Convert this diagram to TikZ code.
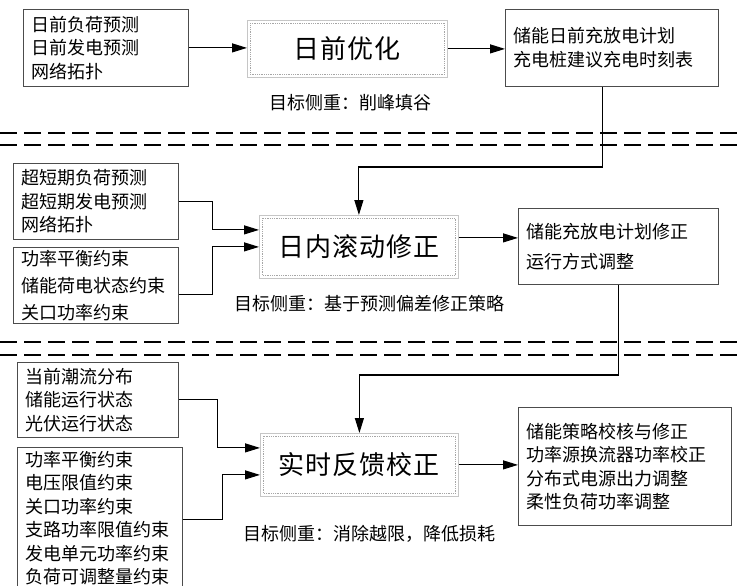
\documentclass[tikz,border=0pt]{standalone}
\usepackage{fontspec}
\setmainfont{Noto Sans CJK SC}
\newfontfamily\stagefont{Noto Sans CJK SC}[LetterSpace=4]
\usetikzlibrary{arrows.meta}
\usepackage{xcolor}

\begin{document}
\begin{tikzpicture}[
x=1pt, y=-1pt,
src/.style={
	rectangle, anchor=north west,
	inner xsep=8pt, inner ysep=0pt,
	draw=black!70, line width=0.8pt, fill=white,
	align=left,
	font=\fontsize{18}{23.5}\selectfont,
},
result/.style={src},
stage/.style={
	rectangle, anchor=north west,
	inner sep=0pt,
	draw=gray!45, line width=0.8pt, fill=white,
	font=\fontsize{26}{30}\selectfont\stagefont,
	path picture={\draw[gray!70, densely dotted]
		([shift={(3pt,-3pt)}]path picture bounding box.north west) rectangle
		([shift={(-3pt,3pt)}]path picture bounding box.south east);},
},
goal/.style={font=\fontsize{18}{22}\selectfont, inner sep=0pt},
arr/.style={draw, line width=1.1pt, -{Triangle[length=15pt,width=9pt]}},
sep/.style={draw, line width=2pt, dash pattern=on 17pt off 7pt},
]
\useasboundingbox (0,0) rectangle (737,586);

% separators between the three time scales
\foreach \y in {133,145,342,355}
    \draw[sep] (0,\y) -- (737,\y);

% day ahead
\node[src, text width=149pt, minimum height=77pt] (dayin) at (23,9) {
    日前负荷预测\\日前发电预测\\网络拓扑};
\node[stage, minimum width=200pt, minimum height=57pt] (dayahead) at (247,20) {日前优化};
\node[result, text width=197pt, minimum height=77pt] (dayout) at (505,9) {
    储能日前充放电计划\\充电桩建议充电时刻表};
\node[goal] (daygoal) at (350,103) {目标侧重：削峰填谷};

% intraday
\node[src, text width=149pt, minimum height=76pt] (intrain) at (13,163) {
    超短期负荷预测\\超短期发电预测\\网络拓扑};
\node[src, text width=149pt, minimum height=76pt,
    font=\fontsize{18}{27}\selectfont] (intracon) at (13,247) {
    功率平衡约束\\储能荷电状态约束\\关口功率约束};
\node[stage, minimum width=199pt, minimum height=63pt] (intraday) at (259,215) {日内滚动修正};
\node[result, text width=184pt, minimum height=76pt,
    font=\fontsize{18}{30}\selectfont] (intraout) at (518,208) {
    储能充放电计划修正\\运行方式调整};
\node[goal] (intragoal) at (369,304) {目标侧重：基于预测偏差修正策略};

% real time
\node[src, text width=145pt, minimum height=75pt] (rtin) at (17,362) {
    当前潮流分布\\储能运行状态\\光伏运行状态};
\node[src, text width=149pt, minimum height=141pt] (rtcon) at (17,447) {
    功率平衡约束\\电压限值约束\\关口功率约束\\支路功率限值约束\\发电单元功率约束\\负荷可调整量约束};
\node[stage, minimum width=198pt, minimum height=63pt] (realtime) at (260,433) {实时反馈校正};
\node[result, text width=197pt, minimum height=118pt] (rtout) at (518,407) {
    储能策略校核与修正\\功率源换流器功率校正\\分布式电源出力调整\\柔性负荷功率调整};
\node[goal] (rtgoal) at (369,534) {目标侧重：消除越限，降低损耗};

% connectors
\draw[arr] (dayin.east) -- (dayin.east -| dayahead.west);
\draw[arr] (dayahead.east) -- (dayahead.east -| dayout.west);
\draw[arr] ([xshift=-9pt]dayout.south) |- ([yshift=48pt]intraday.north) -- (intraday.north);

\draw[arr] (intrain.east) -- ++(34,0) |- ([yshift=17pt]intraday.west);
\draw[arr] ([yshift=-9pt]intracon.east) -- ++(34,0) |- (intraday.west);
\draw[arr] ([yshift=9pt]intraday.east) -- ([yshift=9pt]intraday.east -| intraout.west);
\draw[arr] (intraout.south) |- ([yshift=58pt]realtime.north) -- (realtime.north);

\draw[arr] (rtin.east) -- ++(39,0) |- ([yshift=17pt]realtime.west);
\draw[arr] ([yshift=-2pt]rtcon.east) -- ++(40,0) |- ([yshift=-10pt]realtime.west);
\draw[arr] (realtime.east) -- (realtime.east -| rtout.west);
\end{tikzpicture}
\end{document}
